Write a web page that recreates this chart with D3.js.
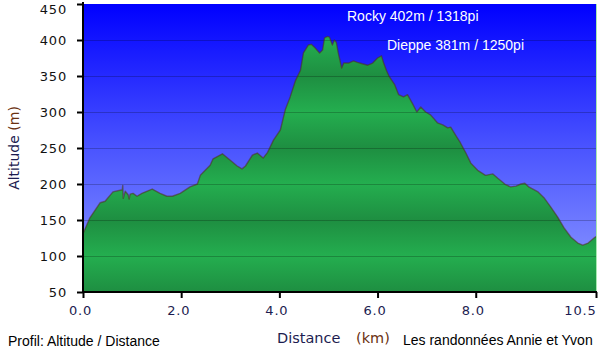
<!DOCTYPE html>
<html>
<head>
<meta charset="utf-8">
<script src="https://cdn.jsdelivr.net/npm/d3@7"></script>
<style>
  html, body { margin: 0; padding: 0; background: #ffffff; }
  svg { display: block; }
</style>
</head>
<body>
<svg id="chart" width="600" height="354"></svg>
<script>
// profile points (km, m)
const distance = [0.00, 0.14, 0.35, 0.45, 0.61, 0.80, 0.81, 0.82, 0.86, 0.92,
  0.94, 0.96, 1.02, 1.10, 1.20, 1.41, 1.57, 1.71, 1.82, 1.98,
  2.18, 2.33, 2.39, 2.59, 2.65, 2.84, 3.00, 3.14, 3.24, 3.31,
  3.45, 3.55, 3.67, 3.76, 3.88, 4.02, 4.12, 4.22, 4.33, 4.43,
  4.49, 4.59, 4.65, 4.73, 4.82, 4.88, 4.92, 4.98, 5.02, 5.08,
  5.12, 5.16, 5.20, 5.27, 5.31, 5.41, 5.51, 5.59, 5.69, 5.80,
  5.90, 6.00, 6.08, 6.12, 6.18, 6.24, 6.35, 6.43, 6.53, 6.61,
  6.71, 6.80, 6.88, 6.98, 7.08, 7.22, 7.33, 7.43, 7.49, 7.59,
  7.69, 7.80, 7.90, 8.04, 8.20, 8.35, 8.45, 8.61, 8.71, 8.82,
  8.92, 9.00, 9.08, 9.27, 9.39, 9.53, 9.67, 9.80, 9.94, 10.08,
  10.18, 10.29, 10.41, 10.45];
const altitude = [131, 153, 174, 176, 189, 192, 198, 180, 190, 185,
  179, 186, 187, 183, 187, 193, 187, 183, 183, 187,
  196, 200, 212, 226, 235, 242, 233, 225, 221, 225,
  240, 243, 236, 244, 261, 275, 303, 321, 344, 358,
  382, 393, 394, 389, 382, 386, 403, 405, 404, 393,
  400, 397, 382, 361, 368, 368, 371, 369, 367, 365,
  368, 375, 378, 369, 358, 349, 338, 324, 321, 324,
  312, 300, 307, 300, 296, 285, 282, 278, 279, 268,
  257, 243, 229, 219, 212, 214, 208, 199, 196, 197,
  200, 201, 196, 189, 181, 168, 154, 139, 126, 118,
  115, 118, 125, 127];

const yTicks = [50, 100, 150, 200, 250, 300, 350, 400, 450];
const xTicks = [0, 2, 4, 6, 8, 10.45];
const xTickLabels = ['0.0', '2.0', '4.0', '6.0', '8.0', '10.5'];
const summits = ['Rocky 402m / 1318pi', 'Dieppe 381m / 1250pi'];

const svg = d3.select('#chart');
const area = {left: 83, right: 596, top: 4, bottom: 292};

const x = d3.scaleLinear()
  .domain([0, 10.45])
  .range([area.left, area.right]);
const y = d3.scaleLinear()
  .domain([50, 450])
  .range([area.bottom, area.top]);

const defs = svg.append('defs');
const sky = defs.append('linearGradient')
  .attr('id', 'sky')
  .attr('x1', 0).attr('y1', 0).attr('x2', 0).attr('y2', 1);
sky.append('stop').attr('offset', '0%').attr('stop-color', '#0000ff');
sky.append('stop').attr('offset', '50%').attr('stop-color', '#4a54ff');
sky.append('stop').attr('offset', '100%').attr('stop-color', '#909dff');

// green shading repeats between gridlines
const grass = defs.append('linearGradient')
  .attr('id', 'grass')
  .attr('gradientUnits', 'userSpaceOnUse')
  .attr('spreadMethod', 'reflect')
  .attr('x1', 0).attr('x2', 0)
  .attr('y1', y(400)).attr('y2', y(350));
grass.append('stop').attr('offset', '0%').attr('stop-color', '#24ae4f');
grass.append('stop').attr('offset', '100%').attr('stop-color', '#1e8e41');

svg.append('rect')
  .attr('x', area.left)
  .attr('y', area.top)
  .attr('width', area.right - area.left)
  .attr('height', area.bottom - area.top)
  .style('fill', 'url(#sky)');

const points = distance.map((d, i) => ({d: d, a: altitude[i]}));

svg.append('path')
  .datum(points)
  .attr('fill', 'url(#grass)')
  .attr('d', d3.area()
    .x(p => x(p.d))
    .y0(y(50))
    .y1(p => y(p.a)));

// gridlines
svg.append('g')
  .selectAll('line')
  .data(yTicks.slice(1, -1))
  .join('line')
  .attr('x1', area.left)
  .attr('x2', area.right)
  .attr('y1', d => Math.round(y(d)) + 0.5)
  .attr('y2', d => Math.round(y(d)) + 0.5)
  .attr('stroke', '#000000')
  .attr('stroke-opacity', 0.22)
  .attr('stroke-width', 1);

svg.append('path')
  .datum(points)
  .attr('fill', 'none')
  .attr('stroke', 'rgb(80,45,25)')
  .attr('stroke-opacity', 0.55)
  .attr('stroke-width', 1.4)
  .attr('stroke-linejoin', 'round')
  .attr('d', d3.line()
    .x(p => x(p.d))
    .y(p => y(p.a)));

svg.append('line')
  .attr('x1', area.right + 0.5)
  .attr('x2', area.right + 0.5)
  .attr('y1', area.top)
  .attr('y2', area.bottom)
  .attr('stroke', '#a8e8b0')
  .attr('stroke-width', 1);

// axes
const yAxis = svg.append('g')
  .attr('transform', `translate(${area.left},0)`)
  .call(d3.axisLeft(y).tickValues(yTicks).tickSize(6).tickPadding(10).tickSizeOuter(0));
const xAxis = svg.append('g')
  .attr('transform', `translate(0,${area.bottom})`)
  .call(d3.axisBottom(x).tickValues(xTicks).tickSize(6).tickPadding(8).tickSizeOuter(0)
    .tickFormat((d, i) => xTickLabels[i]));

for (const g of [yAxis, xAxis]) {
  g.select('.domain').attr('stroke', '#000').attr('stroke-width', 2);
  g.selectAll('.tick line').attr('stroke', '#000').attr('stroke-width', 2);
  g.selectAll('.tick text')
    .style('font-family', '"DejaVu Sans", Verdana, sans-serif')
    .style('font-size', '13px')
    .style('letter-spacing', '0.8px');
}
yAxis.select('.domain').attr('d', `M0,${area.top - 2}V${area.bottom + 1}`);
xAxis.select('.domain').attr('d', `M${area.left - 1},0H${area.right + 1}`);
yAxis.selectAll('.tick text').attr('fill', '#111111');
yAxis.selectAll('.tick text').filter(d => d === 450).attr('dy', '0.75em');
xAxis.selectAll('.tick text').attr('fill', '#1c1c50').attr('dx', -3);
xAxis.selectAll('.tick text').filter((d, i) => i === xTicks.length - 1)
  .attr('text-anchor', 'end').attr('dx', 0);

// axis titles
const yTitle = svg.append('text')
  .attr('transform', `translate(19,148) rotate(-90)`)
  .attr('text-anchor', 'middle')
  .style('font-family', '"DejaVu Sans", Verdana, sans-serif')
  .style('font-size', '14px');
yTitle.append('tspan').attr('fill', '#1c1c50').text('Altitude');
yTitle.append('tspan').attr('fill', '#6a3010').text(' (m)');

const xTitle = svg.append('text')
  .attr('x', 277)
  .attr('y', 343)
  .style('font-family', '"DejaVu Sans", Verdana, sans-serif')
  .style('font-size', '14.5px');
xTitle.append('tspan').attr('fill', '#1c1c50').text('Distance');
xTitle.append('tspan').attr('fill', '#6a3010').attr('x', 356).text('(km)');

// summit notes
svg.append('g')
  .selectAll('text')
  .data(summits)
  .join('text')
  .attr('x', (d, i) => i === 0 ? 347 : 387)
  .attr('y', (d, i) => i === 0 ? 21 : 50)
  .attr('fill', '#ffffff')
  .style('font-family', '"Liberation Sans", Arial, sans-serif')
  .style('font-size', '14px')
  .text(d => d);

svg.append('text')
  .attr('x', 8)
  .attr('y', 346)
  .attr('fill', '#000')
  .style('font-family', '"Liberation Sans", Arial, sans-serif')
  .style('font-size', '14px')
  .text('Profil: Altitude / Distance');

svg.append('text')
  .attr('x', 403)
  .attr('y', 345)
  .attr('fill', '#000')
  .style('font-family', '"Liberation Sans", Arial, sans-serif')
  .style('font-size', '14px')
  .text('Les randonnées Annie et Yvon');
</script>
</body>
</html>
